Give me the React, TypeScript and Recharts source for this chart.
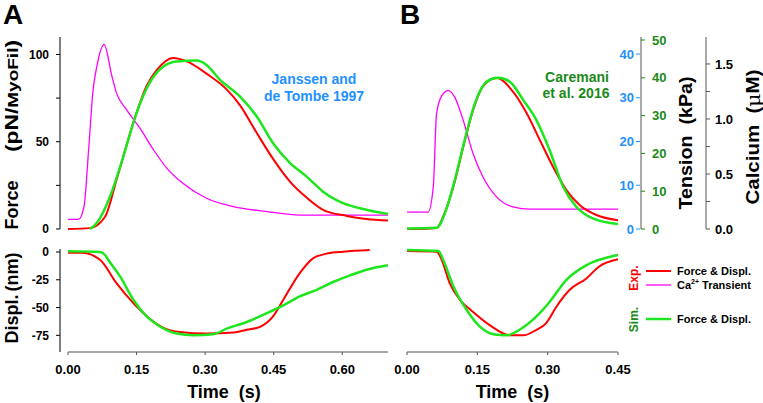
import { Line, LineChart, ReferenceLine, XAxis, YAxis } from "recharts"

// ---- Panel A: Janssen and de Tombe 1997 (time in s) ----
const forceExpTimeA = [0, 0.048, 0.081, 0.106, 0.143, 0.172, 0.194, 0.23, 0.26, 0.303, 0.347, 0.376, 0.413, 0.449, 0.486, 0.522, 0.558, 0.61, 0.653, 0.7]
const forceExpA = [0, 0.5, 7, 28, 61, 82, 91, 98, 96, 89, 80, 71, 55, 40, 27, 18, 11, 7.5, 5.7, 4.8]
const forceSimTimeA = [0.048, 0.063, 0.092, 0.121, 0.15, 0.179, 0.208, 0.238, 0.281, 0.303, 0.332, 0.376, 0.413, 0.449, 0.486, 0.522, 0.558, 0.602, 0.653, 0.7]
const forceSimA = [0, 3.4, 18.6, 41.5, 66.5, 84, 93, 96, 96.5, 94, 85.6, 76, 64.5, 49, 37.7, 30, 21.4, 14.8, 11, 8.6]
const calciumTimeA = [0, 0.023, 0.035, 0.045, 0.055, 0.063, 0.079, 0.096, 0.106, 0.128, 0.157, 0.187, 0.216, 0.252, 0.303, 0.362, 0.435, 0.507, 0.6, 0.7]
const calciumA = [5.5, 5.5, 12.8, 45, 80, 93, 105.7, 87.6, 78, 68.4, 57.9, 45.4, 34.9, 26, 17.6, 12.8, 10, 8, 8, 8]
const displExpTimeA = [0, 0.03, 0.07, 0.106, 0.143, 0.179, 0.208, 0.245, 0.303, 0.362, 0.391, 0.42, 0.449, 0.471, 0.507, 0.536, 0.569, 0.602, 0.66]
const displExpA = [-0.6, -0.6, -7, -28, -46, -60, -68, -72, -73.4, -72.5, -70, -67.4, -57.8, -43, -19, -5.7, -1.2, 0.3, 1.8]
const displSimTimeA = [0, 0.07, 0.081, 0.088, 0.114, 0.143, 0.172, 0.201, 0.238, 0.274, 0.318, 0.347, 0.391, 0.435, 0.471, 0.507, 0.544, 0.58, 0.617, 0.653, 0.7]
const displSimA = [0.6, 0, -2.7, -7, -22, -43, -58, -67, -73.4, -75, -74, -69, -63, -55, -48, -40, -34, -27, -21, -16, -12]

// ---- Panel B: Caremani et al. 2016 ----
const tensionExpTimeB = [0, 0.02, 0.063, 0.077, 0.099, 0.12, 0.141, 0.162, 0.191, 0.226, 0.255, 0.283, 0.311, 0.34, 0.368, 0.404, 0.45]
const tensionExpB = [0, 0, 0.2, 2.8, 9.7, 18.8, 27.2, 32.6, 34.5, 31.4, 26.5, 20.4, 14.3, 8.9, 5.5, 3.2, 2.0] // kPa (blue axis)
const tensionSimTimeB = [0, 0.063, 0.081, 0.102, 0.123, 0.145, 0.17, 0.194, 0.219, 0.248, 0.276, 0.304, 0.333, 0.361, 0.396, 0.45]
const tensionSimB = [0.1, 0.3, 4.2, 13, 23.5, 33.3, 39, 40, 39, 34.1, 28.8, 20.9, 11.2, 5.9, 2.8, 1.3] // kPa (green axis)
const calciumTimeB = [0, 0.045, 0.056, 0.063, 0.074, 0.088, 0.102, 0.12, 0.141, 0.162, 0.191, 0.226, 0.262, 0.45]
const calciumB = [0.154, 0.154, 0.38, 1.046, 1.21, 1.257, 1.196, 0.986, 0.684, 0.473, 0.292, 0.201, 0.181, 0.181] // uM
const displExpTimeB = [0, 0.063, 0.074, 0.091, 0.113, 0.141, 0.177, 0.219, 0.248, 0.276, 0.297, 0.319, 0.347, 0.382, 0.41, 0.45]
const displExpB = [0.9, 0.3, -7, -28, -43, -54, -66, -75, -75, -70, -64, -49, -34, -24, -13, -6.6]
const displSimTimeB = [0, 0.067, 0.077, 0.099, 0.127, 0.155, 0.184, 0.212, 0.24, 0.276, 0.304, 0.34, 0.382, 0.45]
const displSimB = [1.8, 0.9, -7, -31, -52, -67, -74, -75, -70, -58, -45, -25, -12, -2.7]

// axis ticks
const timeTicksA = [0, 0.15, 0.3, 0.45, 0.6]
const timeTicksB = [0, 0.15, 0.3, 0.45]
const forceTicks = [0, 25, 50, 75, 100]
const displTicks = [-75, -50, -25, 0]
const tensionExpTicks = [0, 10, 20, 30, 40]
const tensionSimTicks = [0, 10, 20, 30, 40, 50]
const calciumTicks = [0, 0.25, 0.5, 0.75, 1, 1.25, 1.5]

const zip = (t: number[], v: number[]) => t.map((x, i) => ({ t: x, v: v[i] }))

const FONT = "'Liberation Sans', Arial, Helvetica, sans-serif"
const RED = "#ff0000"
const GREEN = "#1ee61e"
const MAGENTA = "#ff00ff"
const BLUE = "#1e90ff"
const DKGREEN = "#1a8a1a"
const AXIS = "#555"

const yTick = { fill: "#000", fontSize: 12, fontWeight: "bold" }
const xTick = { fill: "#000", fontSize: 13, fontWeight: "bold" }
const timeLabel = {
	value: "Time\u00a0\u00a0(s)",
	position: "insideBottom" as const,
	offset: 5,
	fill: "#000",
	fontSize: 18,
	fontWeight: "bold",
}

const BlueTick = (props: any) => {
	const { x, y, payload } = props
	return (
		<g>
			<line x1={x - 4} y1={y} x2={x} y2={y} stroke={BLUE} />
			<text x={x - 6} y={y} dy="0.36em" textAnchor="end" fill={BLUE} fontSize={13} fontWeight="bold">
				{payload.value}
			</text>
		</g>
	)
}

const box = (left: number, top: number): React.CSSProperties => ({ position: "absolute", left, top })

const App = () => {
	return (
		<div
			style={{
				position: "absolute",
				left: 0,
				top: 0,
				width: 763,
				height: 403,
				background: "#fff",
				overflow: "hidden",
				fontFamily: FONT,
			}}
		>
			{/* A - force */}
			<div style={box(0, 0)}>
				<LineChart width={400} height={240} margin={{ top: 37, right: 12, bottom: 11, left: 0 }}>
					<XAxis type="number" dataKey="t" domain={[-0.0175, 0.7]} hide />
					<YAxis
						type="number"
						domain={[0, 110]}
						ticks={forceTicks}
						tickFormatter={(v: number) => (v % 50 === 0 ? String(v) : "")}
						width={60}
						tickSize={4}
						tickMargin={7}
						axisLine={{ stroke: "#000" }}
						tickLine={{ stroke: "#000" }}
						tick={yTick}
					/>
					<Line type="monotone" data={zip(calciumTimeA, calciumA)} dataKey="v" stroke={MAGENTA} strokeWidth={1.3} dot={false} isAnimationActive={false} />
					<Line type="monotone" data={zip(forceExpTimeA, forceExpA)} dataKey="v" stroke={RED} strokeWidth={2} dot={false} isAnimationActive={false} />
					<Line type="monotone" data={zip(forceSimTimeA, forceSimA)} dataKey="v" stroke={GREEN} strokeWidth={2.5} dot={false} isAnimationActive={false} />
				</LineChart>
			</div>

			{/* A - displacement */}
			<div style={box(0, 240)}>
				<LineChart width={400} height={163} margin={{ top: 9, right: 12, bottom: 0, left: 0 }}>
					<XAxis
						type="number"
						dataKey="t"
						domain={[-0.0175, 0.7]}
						ticks={timeTicksA}
						tickFormatter={(v: number) => v.toFixed(2)}
						height={51}
						axisLine={false}
						tickSize={3}
						tickMargin={10}
						tickLine={{ stroke: AXIS }}
						tick={xTick}
						label={timeLabel}
					/>
					<YAxis
						type="number"
						domain={[-90, 2.7]}
						ticks={displTicks}
						width={60}
						tickSize={4}
						tickMargin={7}
						axisLine={{ stroke: "#000" }}
						tickLine={{ stroke: "#000" }}
						tick={yTick}
					/>
					<ReferenceLine segment={[{ x: 0, y: -90 }, { x: 0.7, y: -90 }]} stroke={AXIS} />
					<Line type="monotone" data={zip(displExpTimeA, displExpA)} dataKey="v" stroke={RED} strokeWidth={2} dot={false} isAnimationActive={false} />
					<Line type="monotone" data={zip(displSimTimeA, displSimA)} dataKey="v" stroke={GREEN} strokeWidth={2.5} dot={false} isAnimationActive={false} />
				</LineChart>
			</div>

			{/* B - tension & calcium */}
			<div style={box(380, 0)}>
				<LineChart width={383} height={240} margin={{ top: 37, right: 17, bottom: 11, left: 27 }}>
					<XAxis type="number" dataKey="t" domain={[0, 0.4969]} hide />
					<YAxis
						yAxisId="a_kpaExp"
						orientation="right"
						type="number"
						domain={[0, 43.9]}
						ticks={tensionExpTicks}
						width={1}
						axisLine={false}
						tickLine={false}
						tickSize={0}
						tickMargin={0}
						tick={<BlueTick />}
					/>
					<YAxis
						yAxisId="b_kpaSim"
						orientation="right"
						type="number"
						domain={[0, 50.8]}
						ticks={tensionSimTicks}
						width={65}
						tickSize={4}
						tickMargin={7}
						axisLine={{ stroke: AXIS }}
						tickLine={{ stroke: DKGREEN }}
						tick={{ ...xTick, fill: DKGREEN }}
					/>
					<YAxis
						yAxisId="c_calcium"
						orientation="right"
						type="number"
						domain={[0, 1.745]}
						ticks={calciumTicks}
						tickFormatter={(v: number) => (Math.round(v * 4) % 2 === 0 ? v.toFixed(1) : "")}
						width={40}
						tickSize={4}
						tickMargin={5}
						axisLine={{ stroke: AXIS }}
						tickLine={{ stroke: AXIS }}
						tick={xTick}
					/>
					<Line yAxisId="c_calcium" type="monotone" data={zip(calciumTimeB, calciumB)} dataKey="v" stroke={MAGENTA} strokeWidth={1.3} dot={false} isAnimationActive={false} />
					<Line yAxisId="a_kpaExp" type="monotone" data={zip(tensionExpTimeB, tensionExpB)} dataKey="v" stroke={RED} strokeWidth={2} dot={false} isAnimationActive={false} />
					<Line yAxisId="b_kpaSim" type="monotone" data={zip(tensionSimTimeB, tensionSimB)} dataKey="v" stroke={GREEN} strokeWidth={2.5} dot={false} isAnimationActive={false} />
				</LineChart>
			</div>

			{/* B - displacement */}
			<div style={box(380, 240)}>
				<LineChart width={383} height={163} margin={{ top: 9, right: 145, bottom: 0, left: 27 }}>
					<XAxis
						type="number"
						dataKey="t"
						domain={[0, 0.45]}
						ticks={timeTicksB}
						tickFormatter={(v: number) => v.toFixed(2)}
						height={51}
						tickSize={3}
						tickMargin={10}
						axisLine={{ stroke: AXIS }}
						tickLine={{ stroke: AXIS }}
						tick={xTick}
						label={timeLabel}
					/>
					<YAxis type="number" domain={[-90, 2.7]} hide />
					<Line type="monotone" data={zip(displExpTimeB, displExpB)} dataKey="v" stroke={RED} strokeWidth={2} dot={false} isAnimationActive={false} />
					<Line type="monotone" data={zip(displSimTimeB, displSimB)} dataKey="v" stroke={GREEN} strokeWidth={2.5} dot={false} isAnimationActive={false} />
				</LineChart>
			</div>

			{/* labels, notes and legend */}
			<svg width={763} height={403} style={{ position: "absolute", left: 0, top: 0, pointerEvents: "none" }}>
				<g fontWeight="bold" fill="#000">
					<text x={3} y={23.5} fontSize={28}>A</text>
					<text x={400} y={23.5} fontSize={28}>B</text>

					<text transform="translate(12,205) rotate(-90)" textAnchor="middle" dominantBaseline="central" fontSize={18}>
						Force
					</text>
					<text
						transform="translate(12,96) rotate(-90)"
						textAnchor="middle"
						dominantBaseline="central"
						fontSize={18}
						textLength={112}
						lengthAdjust="spacingAndGlyphs"
					>
						(pN/<tspan fontSize={15}>MyoFil</tspan>)
					</text>
					<text transform="translate(12,319) rotate(-90)" textAnchor="middle" dominantBaseline="central" fontSize={18}>
						Displ.
					</text>
					<text transform="translate(12,272) rotate(-90)" textAnchor="middle" dominantBaseline="central" fontSize={18}>
						(nm)
					</text>
					<text
						transform="translate(686,143) rotate(-90)"
						textAnchor="middle"
						dominantBaseline="central"
						fontSize={18}
						textLength={133}
						lengthAdjust="spacingAndGlyphs"
					>
						{"Tension\u00a0\u00a0(kPa)"}
					</text>
					<text
						transform="translate(753,137) rotate(-90)"
						textAnchor="middle"
						dominantBaseline="central"
						fontSize={18}
						textLength={135}
						lengthAdjust="spacingAndGlyphs"
					>
						{"Calcium\u00a0\u00a0("}
						<tspan fontWeight="normal" fontFamily="'DejaVu Serif', serif">μ</tspan>M)
					</text>

					<text x={314} y={83.5} textAnchor="middle" fontSize={14} fill={BLUE}>Janssen and</text>
					<text x={314} y={100.5} textAnchor="middle" fontSize={14} fill={BLUE}>de Tombe 1997</text>
					<text x={577} y={81.5} textAnchor="middle" fontSize={14} fill={DKGREEN}>Caremani</text>
					<text x={576} y={98} textAnchor="middle" fontSize={14} fill={DKGREEN}>et al. 2016</text>

					<text transform="translate(634,278) rotate(-90)" textAnchor="middle" dominantBaseline="central" fontSize={12} fill={RED}>
						Exp.
					</text>
					<text transform="translate(634,319.5) rotate(-90)" textAnchor="middle" dominantBaseline="central" fontSize={12} fill={DKGREEN}>
						Sim.
					</text>
					<line x1={646} x2={671} y1={271} y2={271} stroke={RED} strokeWidth={2} />
					<line x1={646} x2={671} y1={285} y2={285} stroke={MAGENTA} strokeWidth={1.3} />
					<line x1={646} x2={671} y1={319} y2={319} stroke={GREEN} strokeWidth={2.5} />
					<text x={677} y={271} dominantBaseline="central" fontSize={11}>Force &amp; Displ.</text>
					<text x={677} y={285} dominantBaseline="central" fontSize={11}>
						Ca<tspan fontSize={7} dy={-4}>2+</tspan>
						<tspan dy={4}> Transient</tspan>
					</text>
					<text x={677} y={319} dominantBaseline="central" fontSize={11}>Force &amp; Displ.</text>
				</g>
			</svg>
		</div>
	)
}

export default App
